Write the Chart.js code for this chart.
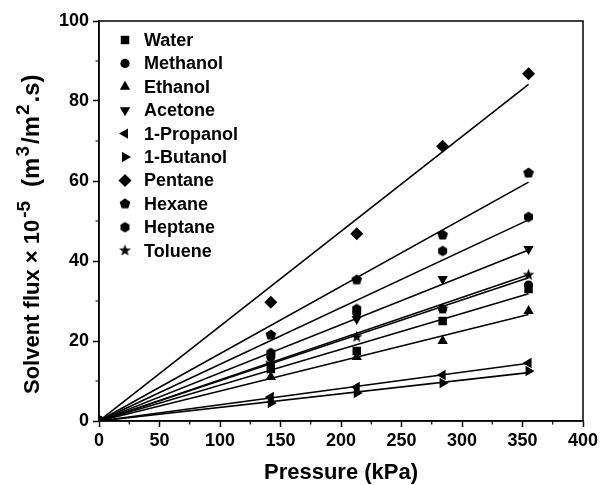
<!DOCTYPE html>
<html>
<head>
<meta charset="utf-8">
<script src="https://cdn.jsdelivr.net/npm/chart.js@4.4.1/dist/chart.umd.min.js"></script>
<style>
  html, body { margin: 0; padding: 0; background: #fff; }
</style>
</head>
<body>
<canvas id="fluxChart" width="616" height="485"></canvas>
<script>
// pressures (kPa) and measured solvent flux (x 10^-5 m3/m2.s)
var pressures = [142, 213, 284, 355];
var solvents = ['Water', 'Methanol', 'Ethanol', 'Acetone', '1-Propanol', '1-Butanol',
                'Pentane', 'Hexane', 'Heptane', 'Toluene'];
var water     = [13.0, 17.5, 25.0, 33.0];
var methanol  = [16.0, 27.0, 28.0, 34.0];
var ethanol   = [11.0, 16.0, 20.0, 27.5];
var acetone   = [14.0, 25.5, 35.5, 43.0];
var propanol  = [6.0, 8.5, 11.5, 14.5];
var butanol   = [4.5, 7.0, 9.5, 12.5];
var pentane   = [29.7, 46.8, 68.7, 86.8];
var hexane    = [21.5, 35.3, 46.5, 62.0];
var heptane   = [17.0, 28.0, 42.5, 51.0];
var toluene   = [14.5, 21.0, 28.0, 36.5];
var xTicks = [0, 50, 100, 150, 200, 250, 300, 350, 400];
var yTicks = [0, 20, 40, 60, 80, 100];

var fluxes = [water, methanol, ethanol, acetone, propanol, butanol, pentane, hexane, heptane, toluene];

// small filled polygon / star markers for the shapes Chart.js lacks
function polyMarker(n, r, inner) {
  var size = Math.ceil(r * 2) + 2;
  var c = document.createElement('canvas');
  c.width = size; c.height = size;
  var g = c.getContext('2d');
  var m = inner ? n * 2 : n;
  g.fillStyle = '#000';
  g.beginPath();
  for (var i = 0; i < m; i++) {
    var a = i * 2 * Math.PI / m;
    var rr = (inner && i % 2) ? inner : r;
    g.lineTo(size / 2 + rr * Math.sin(a), size / 2 - rr * Math.cos(a));
  }
  g.closePath();
  g.fill();
  return c;
}

var markers = [
  { pointStyle: 'rect', radius: 6, rotation: 0 },
  { pointStyle: 'circle', radius: 4.6, rotation: 0 },
  { pointStyle: 'triangle', radius: 6, rotation: 0 },
  { pointStyle: 'triangle', radius: 6, rotation: 180 },
  { pointStyle: 'triangle', radius: 6, rotation: 270 },
  { pointStyle: 'triangle', radius: 6, rotation: 90 },
  { pointStyle: 'rectRot', radius: 6.5, rotation: 0 },
  { pointStyle: polyMarker(5, 5.6), radius: 5, rotation: 0 },
  { pointStyle: polyMarker(6, 5.2), radius: 5, rotation: 0 },
  { pointStyle: polyMarker(5, 6.2, 2.6), radius: 5, rotation: 0 }
];

// least squares line through the origin for each solvent
function slopeOf(vals) {
  var sxy = 0, sxx = 0;
  for (var i = 0; i < pressures.length; i++) {
    sxy += pressures[i] * vals[i];
    sxx += pressures[i] * pressures[i];
  }
  return sxy / sxx;
}

var datasets = [];
solvents.forEach(function(name, k) {
  var k0 = slopeOf(fluxes[k]);
  var xEnd = pressures[pressures.length - 1];
  datasets.push({
    type: 'line',
    label: name + ' fit',
    data: [{ x: 0, y: 0 }, { x: xEnd, y: k0 * xEnd }],
    borderColor: '#000',
    borderWidth: 1.6,
    pointRadius: 0,
    fill: false
  });
});
solvents.forEach(function(name, k) {
  var pts = [{ x: 0, y: 0 }];
  pressures.forEach(function(p, i) { pts.push({ x: p, y: fluxes[k][i] }); });
  datasets.push({
    type: 'scatter',
    label: name,
    data: pts,
    pointStyle: markers[k].pointStyle,
    pointRadius: markers[k].radius,
    pointRotation: markers[k].rotation,
    pointBackgroundColor: '#000',
    pointBorderColor: '#000',
    pointBorderWidth: 0,
    showLine: false
  });
});

var FONT = '"Liberation Sans", Arial, sans-serif';

var framePlugin = {
  id: 'frame',
  afterDraw: function(chart) {
    var ctx = chart.ctx, a = chart.chartArea;
    var xs = chart.scales.x, ys = chart.scales.y;
    ctx.save();
    ctx.strokeStyle = '#000';
    ctx.lineWidth = 1.5;
    ctx.strokeRect(a.left, a.top, a.right - a.left, a.bottom - a.top);
    // minor ticks
    ctx.lineWidth = 1.2;
    ctx.beginPath();
    for (var v = 25; v < 400; v += 50) {
      var px = xs.getPixelForValue(v);
      ctx.moveTo(px, a.bottom); ctx.lineTo(px, a.bottom + 3.5);
    }
    for (var w = 10; w < 100; w += 20) {
      var py = ys.getPixelForValue(w);
      ctx.moveTo(a.left, py); ctx.lineTo(a.left - 3.5, py);
    }
    ctx.stroke();

    ctx.fillStyle = '#000';
    // x axis title
    ctx.font = 'bold 22px ' + FONT;
    ctx.textAlign = 'center';
    ctx.textBaseline = 'alphabetic';
    ctx.fillText('Pressure (kPa)', (a.left + a.right) / 2, 479);

    // y axis title with superscripts
    var parts = [
      { t: 'Solvent flux \u00d7 10', s: 22, up: 0, gap: 0 },
      { t: '-5', s: 19, up: 9, gap: 2 },
      { t: '(m', s: 24, up: 0, gap: 14 },
      { t: '3', s: 19, up: 10, gap: 1 },
      { t: '/m', s: 24, up: 0, gap: 2 },
      { t: '2', s: 19, up: 10, gap: 1 },
      { t: '.s)', s: 24, up: 0, gap: 2 }
    ];
    ctx.translate(39, 394);
    ctx.rotate(-Math.PI / 2);
    ctx.textAlign = 'left';
    var cx = 0;
    parts.forEach(function(p) {
      cx += p.gap;
      ctx.font = 'bold ' + p.s + 'px ' + FONT;
      ctx.fillText(p.t, cx, -p.up);
      cx += ctx.measureText(p.t).width;
    });
    ctx.restore();

    // legend
    ctx.save();
    ctx.fillStyle = '#000';
    ctx.strokeStyle = '#000';
    ctx.font = 'bold 18px ' + FONT;
    ctx.textBaseline = 'middle';
    ctx.textAlign = 'left';
    solvents.forEach(function(name, k) {
      var ly = 40 + k * 23.4;
      Chart.helpers.drawPoint(ctx, {
        pointStyle: markers[k].pointStyle,
        radius: markers[k].radius,
        rotation: markers[k].rotation,
        borderWidth: 0
      }, 125, ly);
      ctx.fillText(name, 144, ly + 1);
    });
    ctx.restore();
  }
};

var tickFont = { family: FONT, size: 18, weight: 'bold' };

new Chart(document.getElementById('fluxChart'), {
  type: 'scatter',
  data: { datasets: datasets },
  options: {
    responsive: false,
    animation: false,
    devicePixelRatio: 1,
    layout: { padding: { top: 21, right: 33, left: 0, bottom: 0 } },
    plugins: {
      legend: { display: false },
      tooltip: { enabled: false }
    },
    scales: {
      x: {
        type: 'linear',
        min: 0, max: 400,
        afterBuildTicks: function(s) { s.ticks = xTicks.map(function(v) { return { value: v }; }); },
        ticks: { font: tickFont, color: '#000', padding: 3, maxRotation: 0 },
        grid: { drawOnChartArea: false, drawTicks: true, tickLength: 6, tickColor: '#000', tickWidth: 1.5 },
        border: { display: true, color: '#000', width: 1.5 },
        afterFit: function(s) { s.height = 64; }
      },
      y: {
        type: 'linear',
        min: 0, max: 100,
        afterBuildTicks: function(s) { s.ticks = yTicks.map(function(v) { return { value: v }; }); },
        ticks: { font: tickFont, color: '#000', padding: 4 },
        grid: { drawOnChartArea: false, drawTicks: true, tickLength: 6, tickColor: '#000', tickWidth: 1.5 },
        border: { display: true, color: '#000', width: 1.5 },
        afterFit: function(s) { s.width = 99; }
      }
    }
  },
  plugins: [framePlugin]
});
</script>
</body>
</html>
